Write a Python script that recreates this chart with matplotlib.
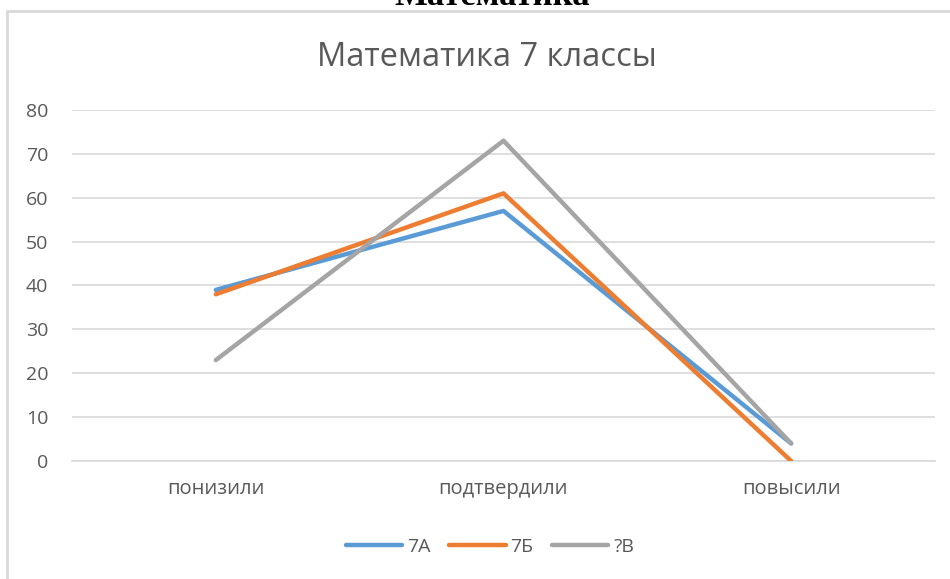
import matplotlib
matplotlib.use("Agg")
import matplotlib.pyplot as plt
from matplotlib.patches import Rectangle

categories = ["понизили", "подтвердили", "повысили"]
series_names = ["7А", "7Б", "?В"]
values_7a = [39, 57, 4]
values_7b = [38, 61, 0]
values_7v = [23, 73, 4]
yticks = [0, 10, 20, 30, 40, 50, 60, 70, 80]
colors = ["#5B9BD5", "#ED7D31", "#A5A5A5"]

plt.rcParams['font.family'] = ['Open Sans', 'DejaVu Sans']
W, H = 950, 579
fig = plt.figure(figsize=(W / 100, H / 100), dpi=100)

# outer frame
fig.patches.append(Rectangle((7 / W, -0.1), 1.2, 1 - 11 / H + 0.1, transform=fig.transFigure,
                             fill=False, edgecolor="#D9D9D9", linewidth=2))

# document heading (cut off at top)
fig.text(492 / W, 1 - 5 / H, "Математика", ha="center", va="baseline",
         family="Liberation Serif", fontweight="bold", fontsize=25, color="black")

ax = fig.add_axes([72 / W, 1 - 461 / H, (935 - 72) / W, (461 - 110) / H])
x = list(range(len(categories)))
for vals, name, c in zip([values_7a, values_7b, values_7v], series_names, colors):
    ax.plot(x, vals, color=c, linewidth=3.2, solid_capstyle="round", label=name, zorder=3)

ax.set_xlim(-0.5, len(categories) - 0.5)
ax.set_ylim(0, 80)
ax.set_yticks(yticks)
ax.set_xticks(x)
ax.set_xticklabels(categories)
ax.grid(axis="y", color="#D9D9D9", linewidth=1.2)
ax.set_axisbelow(True)
for s in ["top", "right", "left"]:
    ax.spines[s].set_visible(False)
ax.spines["bottom"].set_color("#D9D9D9")
ax.spines["bottom"].set_linewidth(1.2)
ax.tick_params(axis="y", length=0, labelsize=14, colors="#595959", pad=17)
ax.tick_params(axis="x", length=0, labelsize=14.5, colors="#595959", pad=13)

fig.text(487 / W, 1 - 57 / H, "Математика 7 классы", ha="center", va="center",
         fontsize=23.5, color="#595959")

leg = fig.legend(loc="center", bbox_to_anchor=(490 / W, 1 - 547 / H), ncol=3, frameon=False,
                 fontsize=14, handlelength=2.9, handletextpad=0.25, columnspacing=0.95,
                 labelcolor="#595959")

fig.savefig("out.png", dpi=100)
